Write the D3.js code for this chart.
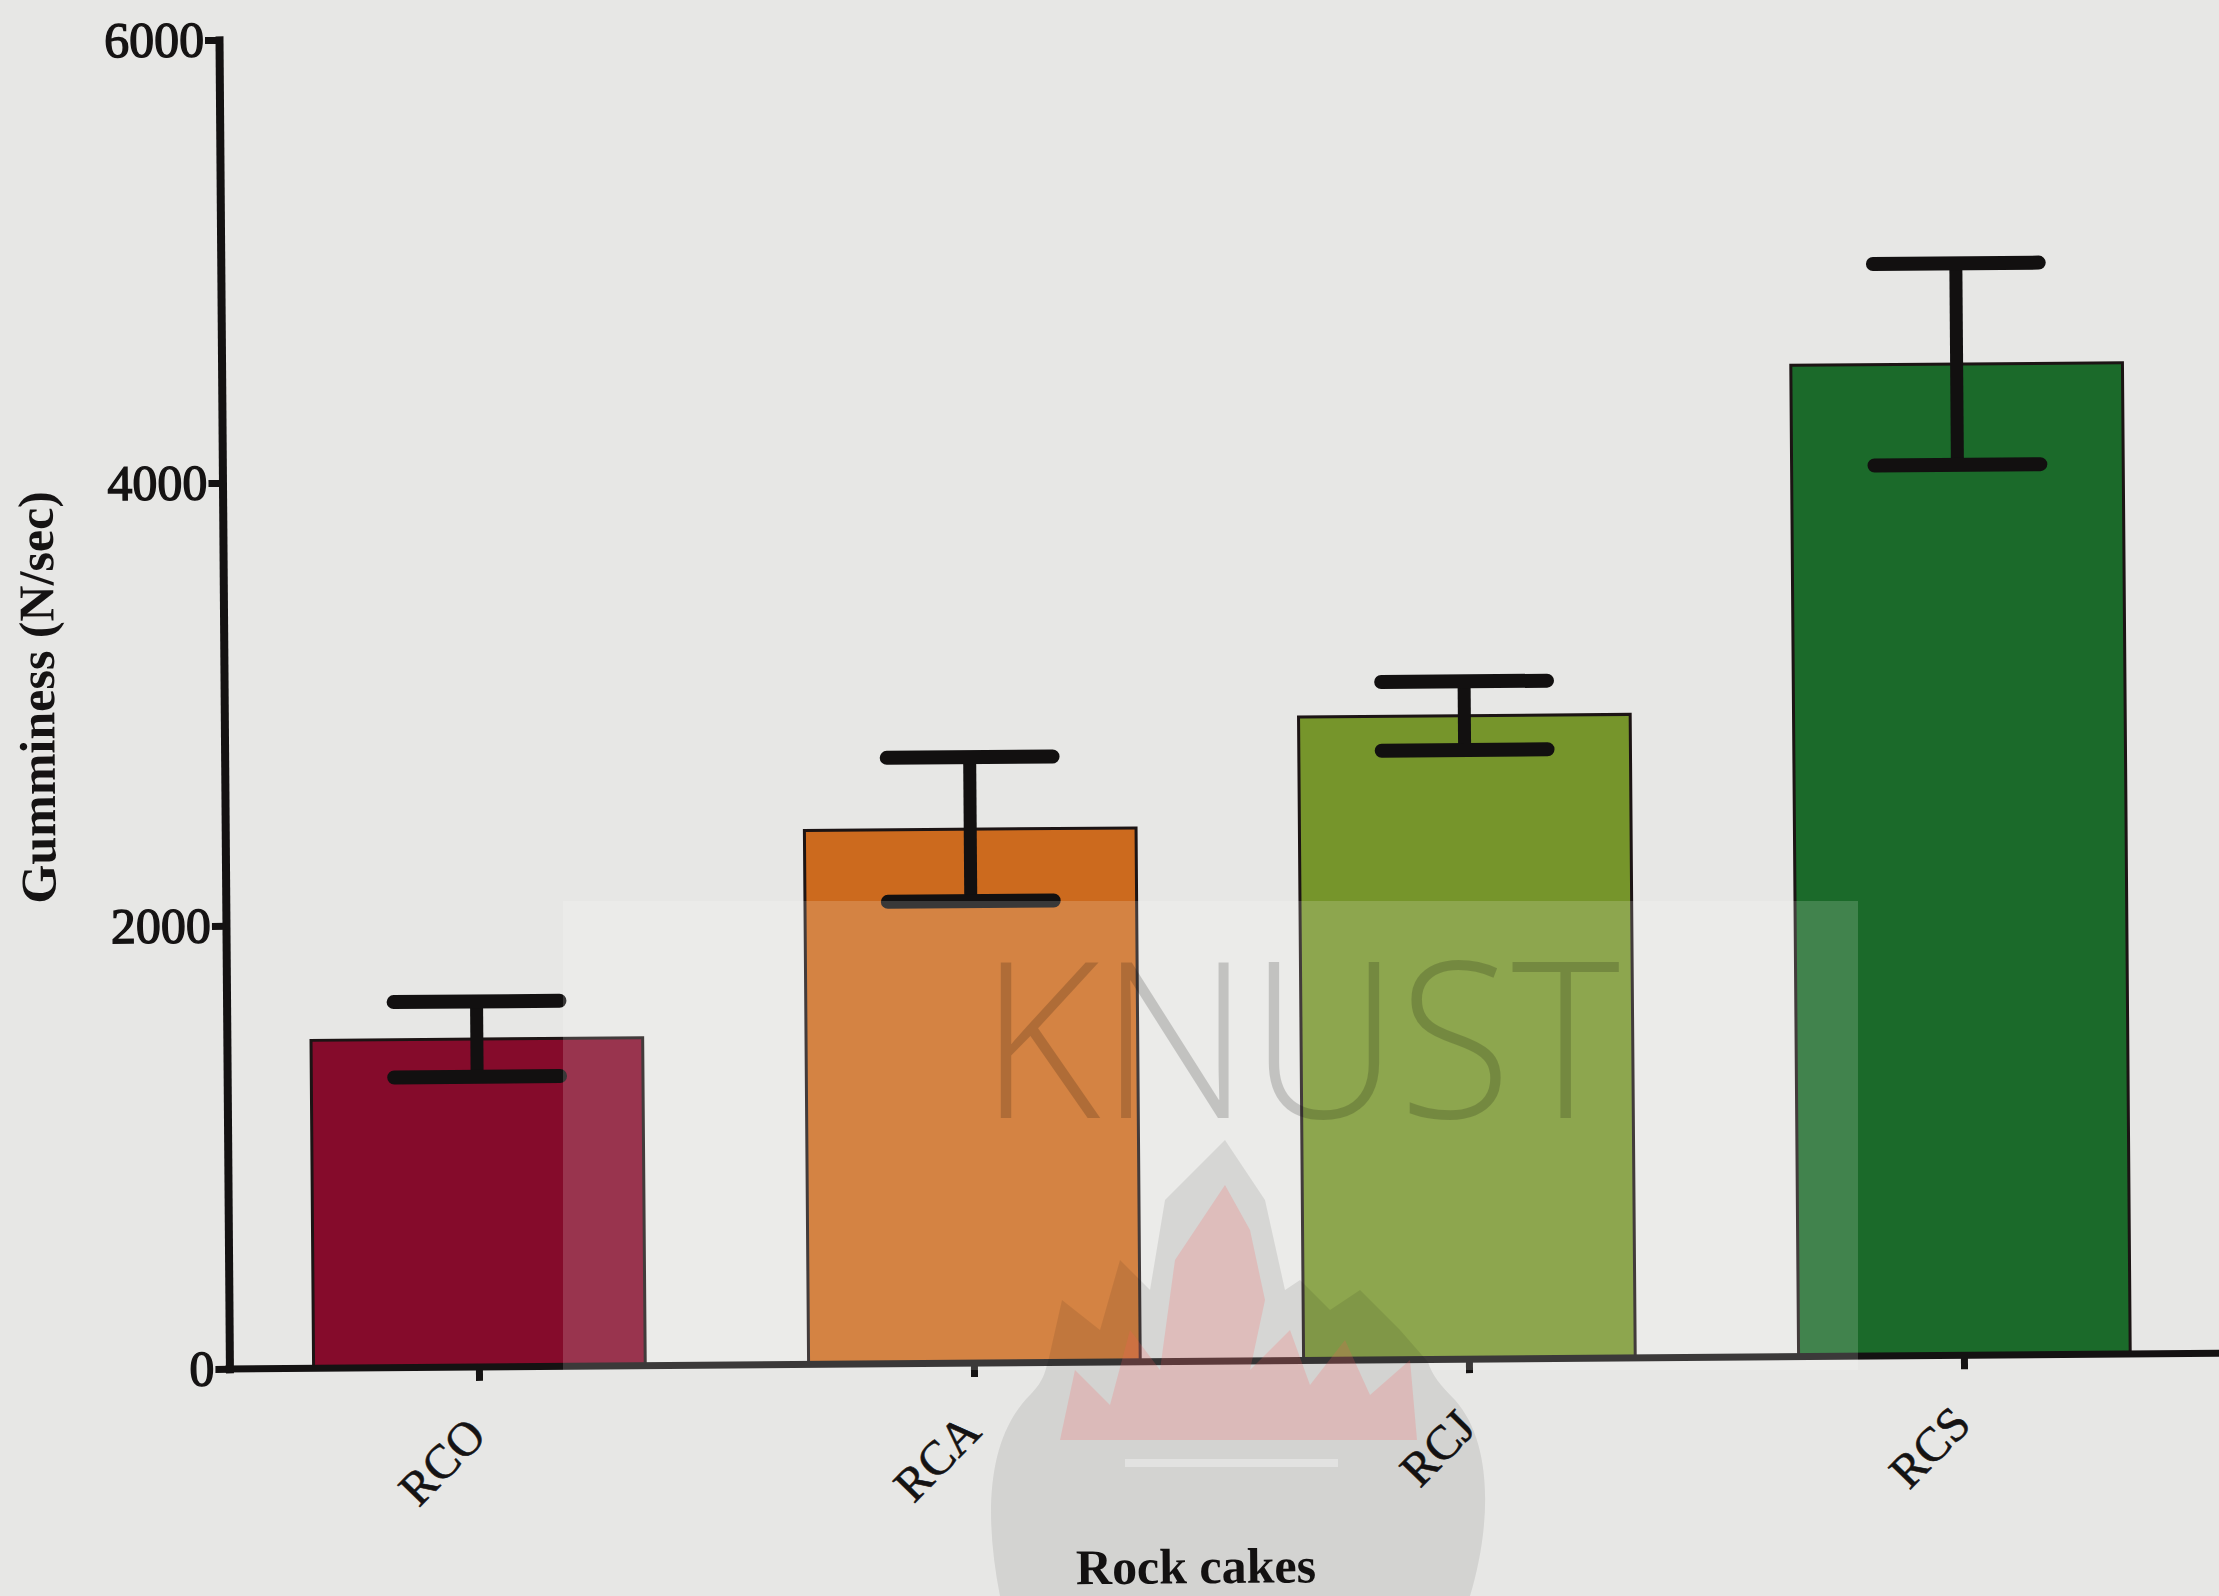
<!DOCTYPE html>
<html><head><meta charset="utf-8">
<script src="https://cdn.jsdelivr.net/npm/d3@7"></script>
<style>html,body{margin:0;padding:0;background:#e7e7e5;overflow:hidden}svg{display:block}</style>
</head><body>
<script>
// ---- data ----
const categories = ["RCO", "RCA", "RCJ", "RCS"];
const means = [1480, 2410, 2905, 4475];
const errors = [170, 325, 155, 455];
const barColors = ["#850b2b", "#cc6a1e", "#76952b", "#1b6a2a"];
const yTicks = [0, 2000, 4000, 6000];
const yLabel = "Gumminess (N/sec)";
const xLabel = "Rock cakes";
const watermarkText = "KNUST";

const W = 2219, H = 1596;
const serif = "'Liberation Serif','Times New Roman',serif";

const svg = d3.select("body").append("svg").attr("width", W).attr("height", H);
svg.append("rect").attr("width", W).attr("height", H).attr("fill", "#e7e7e5");

// scanned page is slightly rotated
const g = svg.append("g").attr("transform", "rotate(-0.45 1100 800)");

const x = d3.scaleBand().domain(categories).range([225, 2210]).paddingInner(0.33).paddingOuter(0.17);
const y = d3.scaleLinear().domain([0, 6000]).range([1362, 33]);

const data = categories.map((c, i) => ({ c, m: means[i], e: errors[i], col: barColors[i] }));

// bars
g.selectAll("rect.bar").data(data).join("rect")
  .attr("class", "bar")
  .attr("x", d => x(d.c))
  .attr("y", d => y(d.m))
  .attr("width", x.bandwidth())
  .attr("height", d => y(0) - y(d.m))
  .attr("fill", d => d.col)
  .attr("stroke", "#1c1414")
  .attr("stroke-width", 3);

// error bars
const eb = g.selectAll("g.err").data(data).join("g").attr("class", "err");
const cx = d => x(d.c) + x.bandwidth() / 2;
const capHalf = x.bandwidth() * 0.25;
eb.append("line")
  .attr("x1", cx).attr("x2", cx)
  .attr("y1", d => y(d.m + d.e)).attr("y2", d => y(d.m - d.e))
  .attr("stroke", "#121010").attr("stroke-width", 13);
[1, -1].forEach(s => {
  eb.append("line")
    .attr("x1", d => cx(d) - capHalf).attr("x2", d => cx(d) + capHalf)
    .attr("y1", d => y(d.m + s * d.e)).attr("y2", d => y(d.m + s * d.e))
    .attr("stroke", "#121010").attr("stroke-width", 14).attr("stroke-linecap", "round");
});

// y axis
const yAxis = g.append("g").attr("transform", `translate(${x.range()[0]},0)`)
  .call(d3.axisLeft(y).tickValues(yTicks).tickFormat(d3.format("d")).tickSize(14).tickSizeOuter(0).tickPadding(1));
yAxis.select(".domain").attr("stroke", "#141212").attr("stroke-width", 8).attr("stroke-linecap", "square");
yAxis.selectAll(".tick line").attr("stroke", "#141212").attr("stroke-width", 7);
yAxis.selectAll(".tick text").attr("font-family", serif).attr("font-size", 50)
  .attr("fill", "#151313").attr("stroke", "#151313").attr("stroke-width", 1.4);

// x axis
const xAxis = g.append("g").attr("transform", `translate(0,${y(0)})`)
  .call(d3.axisBottom(x).tickSize(14).tickSizeOuter(0).tickFormat(""));
xAxis.select(".domain").remove();
xAxis.selectAll(".tick line").attr("stroke", "#141212").attr("stroke-width", 7);
g.append("line").attr("x1", x.range()[0] - 4).attr("x2", W + 60)
  .attr("y1", y(0)).attr("y2", y(0))
  .attr("stroke", "#141212").attr("stroke-width", 7);

// category labels
g.selectAll("text.cat").data(categories).join("text")
  .attr("class", "cat")
  .attr("transform", d => `translate(${x(d) + x.bandwidth() / 2 + 8},${y(0) + 71}) rotate(-45)`)
  .attr("text-anchor", "end")
  .attr("font-family", serif).attr("font-size", 48)
  .attr("fill", "#151313").attr("stroke", "#151313").attr("stroke-width", 0.6)
  .text(d => d);

// axis titles
g.append("text")
  .attr("transform", "translate(55,689) rotate(-90)")
  .attr("text-anchor", "middle")
  .attr("font-family", serif).attr("font-weight", "bold").attr("font-size", 50)
  .attr("fill", "#151313")
  .text(yLabel);
g.append("text")
  .attr("x", 1190).attr("y", 1584)
  .attr("text-anchor", "middle")
  .attr("font-family", serif).attr("font-weight", "bold").attr("font-size", 50)
  .attr("fill", "#151313")
  .text(xLabel);

// ---- watermark (not rotated) ----
const wm = svg.append("g");
wm.append("rect").attr("x", 563).attr("y", 901).attr("width", 1295).attr("height", 469)
  .attr("fill", "#ffffff").attr("opacity", 0.17);
wm.append("path")
  .attr("d", "M1000,1596 C985,1520 985,1440 1030,1395 C1045,1380 1045,1370 1048,1362 L1062,1300 L1100,1330 L1120,1260 L1150,1290 L1165,1200 L1225,1140 L1265,1200 L1285,1290 L1300,1280 L1330,1310 L1360,1290 L1400,1330 L1428,1362 C1432,1375 1440,1385 1455,1400 C1495,1445 1490,1530 1470,1596 Z")
  .attr("fill", "#000").attr("opacity", 0.085);
wm.append("path")
  .attr("d", "M1060,1440 L1075,1370 L1110,1405 L1130,1330 L1160,1370 L1175,1260 L1225,1185 L1250,1230 L1265,1300 L1250,1370 L1290,1330 L1310,1385 L1345,1340 L1370,1395 L1410,1360 L1417,1440 Z")
  .attr("fill", "#ff5a5a").attr("opacity", 0.2);
wm.append("line").attr("x1", 1125).attr("x2", 1338).attr("y1", 1463).attr("y2", 1463)
  .attr("stroke", "#fff").attr("stroke-width", 8).attr("opacity", 0.35);
wm.append("text")
  .attr("x", 980).attr("y", 1118)
  .attr("textLength", 640).attr("lengthAdjust", "spacingAndGlyphs")
  .attr("font-family", "'Open Sans',Lato,sans-serif").attr("font-weight", 300).attr("font-size", 218)
  .attr("fill", "#000").attr("opacity", 0.17)
  .text(watermarkText);
</script>
</body></html>
